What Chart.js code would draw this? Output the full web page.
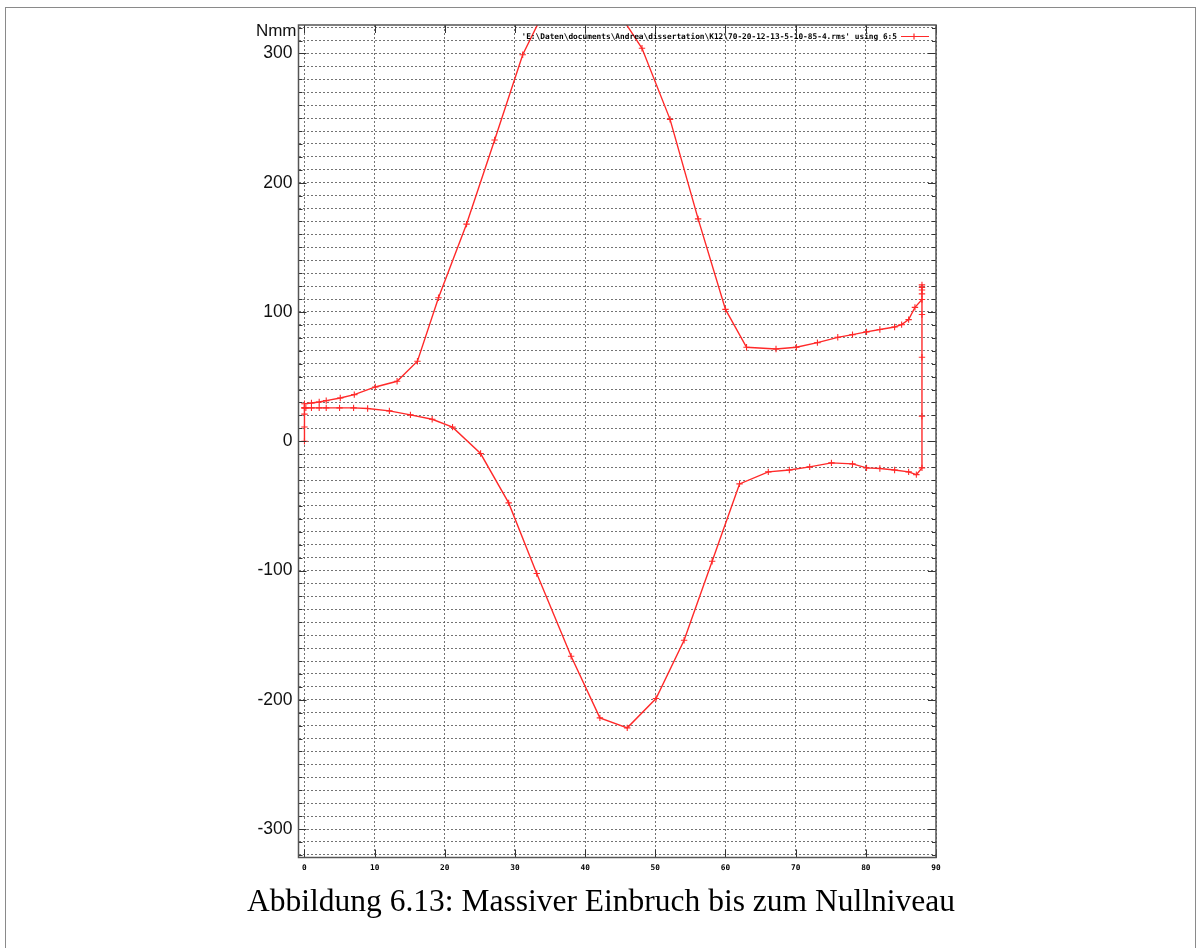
<!DOCTYPE html>
<html>
<head>
<meta charset="utf-8">
<title>Abbildung 6.13</title>
<script src="https://cdn.jsdelivr.net/npm/chart.js@4/dist/chart.umd.min.js"></script>
<style>
  html, body { margin: 0; padding: 0; background: #fff; }
  body { width: 1202px; height: 948px; position: relative; overflow: hidden; }
  #frame { position: absolute; left: 5px; top: 7px; width: 1191px; height: 980px; border: 1px solid #8a8a8a; box-sizing: border-box; }
  #plot { position: absolute; left: 0; top: 0; }
  #caption { position: absolute; left: 0; top: 885px; width: 1202px; text-align: center;
             font-family: "Liberation Serif", "Times New Roman", serif; font-size: 31.5px; line-height: 31.5px; color: #000; }
</style>
</head>
<body>
<div id="frame"></div>
<canvas id="plot" width="1202" height="948"></canvas>
<div id="caption">Abbildung 6.13: Massiver Einbruch bis zum Nullniveau</div>
<script>
// Measured curve (column 6 against column 5), in recording order:
// rise at 0, upper branch to 88, drop at 88, lower branch back to 0.
const angle = [
  0, 0, 0, 0, 0,
  1, 2.1, 3.1, 5.1, 7.1, 10.1, 13.2, 16.1, 19.1, 23.1, 27.1, 31.1, 35, 39.5, 44,
  48.1, 52.1, 56.1, 60, 63, 67.2, 70.1, 73.1, 76, 78.1, 80.1, 82, 84.1, 85.1, 86.1, 87, 88,
  88, 88, 88, 88,
  88, 88, 88, 88,
  87.2, 86.1, 84.1, 82, 80.1, 78.1, 75.1, 72, 69.1, 66.1, 62, 58.1, 54.1, 50.1, 46, 42.1,
  38, 33.1, 29.1, 25.1, 21.1, 18.2, 15.1, 12.1, 9, 7, 5, 3.1, 2.1, 1, 0.2, 0
];
const moment = [
  0, 11, 21, 26, 29,
  29.6, 30.4, 31.4, 33.5, 36.1, 42, 46.4, 61.9, 111, 168, 233, 299, 342, 362, 338,
  304, 249, 172, 102, 72.7, 71.4, 72.7, 76.3, 80.4, 82.5, 84.6, 86.4, 88.4, 90.2, 94.1, 103.6, 109.6,
  114, 117, 119, 121,
  98, 65, 19.3, -20.6,
  -25.8, -23.7, -22.2, -21.1, -20.6, -17.5, -16.7, -19.8, -22.2, -23.7, -33, -92.8, -153.9, -199, -221.7, -214,
  -166.3, -102.3, -47.7, -9.5, 10.9, 17, 20.4, 23.5, 25.3, 25.8, 25.8, 25.8, 25.8, 25.8, 25.8, 25.6
];

const seriesLabel = "'E:\\Daten\\documents\\Andrea\\dissertation\\K12\\70-20-12-13-5-10-85-4.rms' using 6:5";
const yUnit = 'Nmm';

// axis ranges and tick steps
const xRange = [-0.85, 90];
const yRange = [-322, 322];
const xStep = 10;
const yStep = 10;
const yLabelStep = 100;

const RED = '#ff2a2a';

function stepTicks(lo, hi, step) {
  const out = [];
  for (let v = Math.ceil(lo / step) * step; v <= hi + 1e-9; v += step) out.push({ value: Math.round(v * 1000) / 1000 });
  return out;
}

// frame, inward tick marks, unit label and key
const decorations = {
  id: 'decorations',
  afterDatasetsDraw(chart) {
    const { ctx, chartArea: a, scales } = chart;
    ctx.save();
    // inward tick marks on all four sides
    ctx.strokeStyle = '#333';
    ctx.lineWidth = 1;
    ctx.beginPath();
    scales.y.ticks.forEach(t => {
      const py = Math.round(scales.y.getPixelForValue(t.value)) + 0.5;
      const len = (t.value % yLabelStep === 0) ? 8 : 4;
      ctx.moveTo(a.left, py); ctx.lineTo(a.left + len, py);
      ctx.moveTo(a.right, py); ctx.lineTo(a.right - len, py);
    });
    scales.x.ticks.forEach(t => {
      const px = Math.round(scales.x.getPixelForValue(t.value)) + 0.5;
      ctx.moveTo(px, a.bottom); ctx.lineTo(px, a.bottom - 8);
      ctx.moveTo(px, a.top); ctx.lineTo(px, a.top + 8);
    });
    ctx.stroke();
    // frame
    ctx.strokeStyle = '#555';
    ctx.lineWidth = 1.5;
    ctx.strokeRect(a.left, a.top, a.right - a.left, a.bottom - a.top);

    // unit label at the top of the y axis
    ctx.fillStyle = '#111';
    ctx.font = '17px "Liberation Sans", Arial, sans-serif';
    ctx.textAlign = 'right';
    ctx.textBaseline = 'middle';
    ctx.fillText(yUnit, a.left - 2, 31);

    // key: file name, then a line sample with its marker
    const ds = chart.data.datasets[0];
    const ky = 36.5;
    ctx.font = 'bold 7.8px "DejaVu Sans Mono", monospace';
    ctx.fillStyle = '#000';
    ctx.fillText(ds.label, 897, ky);
    ctx.strokeStyle = RED;
    ctx.lineWidth = 1.2;
    ctx.beginPath();
    ctx.moveTo(901, ky); ctx.lineTo(929, ky);
    ctx.moveTo(914, ky - 3); ctx.lineTo(914, ky + 3);
    ctx.stroke();
    ctx.restore();
  }
};

new Chart(document.getElementById('plot'), {
  type: 'line',
  data: {
    datasets: [{
      label: seriesLabel,
      data: angle.map((x, i) => ({ x: x, y: moment[i] })),
      borderColor: RED,
      backgroundColor: RED,
      borderWidth: 1.4,
      pointStyle: 'cross',
      pointRadius: 3.2,
      pointBorderWidth: 1.1,
      pointBorderColor: RED,
      tension: 0,
      fill: false
    }]
  },
  options: {
    responsive: false,
    animation: false,
    devicePixelRatio: 1,
    layout: { padding: { left: 0, top: 25, right: 266, bottom: 70 } },
    plugins: { legend: { display: false }, tooltip: { enabled: false } },
    scales: {
      x: {
        type: 'linear',
        min: xRange[0], max: xRange[1],
        bounds: 'data',
        afterBuildTicks: s => { s.ticks = stepTicks(0, xRange[1], xStep); },
        afterFit: s => { s.height = 20.5; },
        grid: { color: 'rgba(90,90,90,0.85)', lineWidth: 1, drawTicks: false },
        border: { display: false, dash: [2, 2] },
        ticks: {
          autoSkip: false, maxRotation: 0, padding: 6, color: '#000',
          font: { family: '"DejaVu Sans Mono", monospace', size: 7.8, weight: 'bold' },
          callback: v => String(v)
        }
      },
      y: {
        type: 'linear',
        min: yRange[0], max: yRange[1],
        bounds: 'data',
        afterBuildTicks: s => { s.ticks = stepTicks(yRange[0], yRange[1], yStep); },
        afterFit: s => { s.width = 298.5; },
        grid: { color: 'rgba(90,90,90,0.85)', lineWidth: 1, drawTicks: false },
        border: { display: false, dash: [2, 2] },
        ticks: {
          autoSkip: false, padding: 6, color: '#111',
          font: { family: '"Liberation Sans", Arial, sans-serif', size: 17.5 },
          callback: v => (v % yLabelStep === 0 ? String(v) : '')
        }
      }
    }
  },
  plugins: [decorations]
});
</script>
</body>
</html>
